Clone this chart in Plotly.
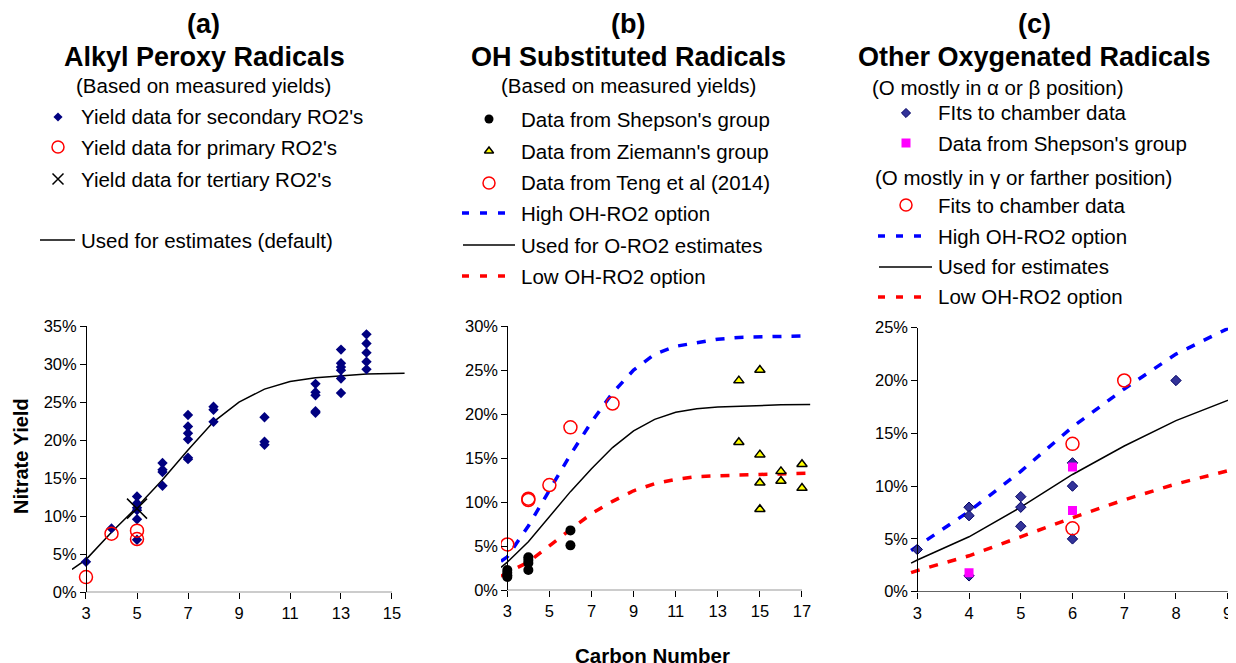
import plotly.graph_objects as go

W, H = 1236, 663
OFF = 8  # the page body margin shifts the plot by this much
FONT = "Liberation Sans, Arial, sans-serif"
NAVY = "#000080"

# ---- panel (a): alkyl peroxy radicals ----
a_sec_x = [3, 4, 5, 5, 5, 5, 5, 5, 6, 6, 6, 6, 7, 7, 7, 7, 7, 7, 8, 8, 8,
           10, 10, 10, 12, 12, 12, 12, 12, 13, 13, 13, 13, 13, 13, 14, 14, 14, 14, 14]
a_sec_y = [4.0, 8.4, 12.6, 11.7, 11.1, 10.8, 9.6, 6.9, 17.0, 16.1, 15.8, 14.0,
           23.3, 21.8, 20.9, 20.1, 17.7, 17.5, 24.4, 24.0, 22.4,
           23.0, 19.8, 19.4, 27.4, 26.3, 25.9, 23.8, 23.6,
           31.9, 30.1, 29.6, 29.2, 28.1, 26.2, 33.9, 32.7, 31.5, 30.3, 29.3]
a_prim_x = [3, 4, 5, 5]
a_prim_y = [2.0, 7.7, 8.1, 7.0]
a_tert_x = [5]
a_tert_y = [11.0]
a_est_x = [2.45, 3, 4, 5, 6, 7, 8, 9, 10, 11, 12, 13, 14, 15.5]
a_est_y = [3.0, 4.3, 7.9, 11.2, 14.8, 18.7, 22.4, 25.0, 26.7, 27.7, 28.2, 28.5, 28.7, 28.8]

# ---- panel (b): OH substituted radicals ----
b_shep_x = [3, 3, 3, 3, 4, 4, 4, 4, 6, 6]
b_shep_y = [2.3, 2.0, 1.7, 1.5, 3.75, 3.45, 3.1, 2.3, 6.8, 5.1]
b_ziem_x = [14, 14, 15, 15, 15, 15, 16, 16, 17, 17]
b_ziem_y = [23.8, 16.8, 25.0, 15.4, 12.2, 9.2, 13.5, 12.4, 14.3, 11.6]
b_teng_x = [3, 4, 4, 5, 6, 8]
b_teng_y = [5.2, 10.4, 10.25, 11.95, 18.5, 21.2]
b_line_x = [2.7, 3, 4, 5, 6, 7, 8, 9, 10, 11, 12, 13, 14, 15, 16, 17.4]
b_high = [3.3, 3.8, 7.3, 11.4, 15.4, 19.1, 22.4, 25.0, 26.8, 27.7, 28.1, 28.5, 28.7, 28.75, 28.8, 28.9]
b_mid = [2.6, 3.2, 5.5, 8.3, 11.2, 13.8, 16.2, 18.1, 19.4, 20.2, 20.6, 20.8, 20.9, 21.0, 21.05, 21.1]
b_low = [1.6, 2.0, 3.2, 5.1, 6.9, 8.7, 10.1, 11.3, 12.1, 12.6, 12.9, 13.0, 13.1, 13.15, 13.2, 13.3]

# ---- panel (c): other oxygenated radicals ----
c_fit_x = [3, 4, 4, 4, 5, 5, 5, 6, 6, 6, 8]
c_fit_y = [4.0, 8.0, 7.2, 1.5, 9.0, 8.0, 6.2, 12.2, 10.0, 5.0, 20.0]
c_shep_x = [4, 6, 6]
c_shep_y = [1.8, 11.8, 7.7]
c_far_x = [6, 6, 7]
c_far_y = [14.0, 6.0, 20.0]
c_line_x = [2.88, 3, 4, 5, 6, 7, 8, 9.2]
c_high = [3.9, 4.3, 7.6, 11.4, 15.6, 19.2, 22.5, 25.4]
c_mid = [2.7, 3.0, 5.2, 8.0, 11.1, 13.8, 16.2, 18.5]
c_low = [1.8, 2.0, 3.4, 5.2, 7.0, 8.7, 10.2, 11.7]


def dom(r0, r1, c0, c1, p0, p1):
    # pixel span of an axis range, given two reference values and their pixels
    s = (p1 - p0) / (c1 - c0)
    return p0 - (c0 - r0) * s, p1 + (r1 - c1) * s


fig = go.Figure()

panels = [
    dict(xr=(2.45, 15.5), c=(3, 15), p=(86, 392), ymax=35, py=(592.3, 326), xt=list(range(3, 16, 2))),
    dict(xr=(2.7, 17.4), c=(3, 17), p=(507.3, 802), ymax=30, py=(590.3, 326), xt=list(range(3, 18, 2))),
    dict(xr=(2.85, 9.2), c=(3, 9), p=(917.3, 1227.7), ymax=25, py=(591.7, 327.7), xt=list(range(3, 10))),
]

layout = {}
for i, pn in enumerate(panels, start=1):
    L, R = dom(pn["xr"][0], pn["xr"][1], pn["c"][0], pn["c"][1], pn["p"][0] - OFF, pn["p"][1] - OFF)
    xd = [max(L / W, 0), min(R / W, 1)]
    yd = [1 - (pn["py"][0] - OFF) / H, 1 - (pn["py"][1] - OFF) / H]
    pos = (pn["p"][0] - OFF) / W
    sfx = "" if i == 1 else str(i)
    yt = list(range(0, pn["ymax"] + 1, 5))
    layout["xaxis" + sfx] = dict(domain=xd, range=list(pn["xr"]), anchor="y" + sfx, automargin=False,
                                 tickvals=pn["xt"], ticks="outside", ticklen=6, tickcolor="black",
                                 showline=False, showgrid=False, zeroline=False,
                                 tickfont=dict(family=FONT, size=16.5, color="black"), fixedrange=True)
    layout["yaxis" + sfx] = dict(domain=yd, range=[0, pn["ymax"]], anchor="free", position=pos,
                                 automargin=False, tickmode="array", tickvals=yt,
                                 ticktext=["%d%%" % v for v in yt],
                                 ticks="outside", ticklen=6, tickcolor="black",
                                 showline=True, linecolor="black", linewidth=1,
                                 showgrid=False, zeroline=False,
                                 tickfont=dict(family=FONT, size=16.5, color="black"), fixedrange=True)

# overlay axis in window pixel units for the hand-made legends
layout["xaxis4"] = dict(domain=[0, 1], range=[OFF, W + OFF], visible=False, fixedrange=True,
                        anchor="y4", automargin=False)
layout["yaxis4"] = dict(domain=[0, 1], range=[H + OFF, OFF], visible=False, fixedrange=True,
                        anchor="x4", automargin=False)


def line(x, y, ax, color, width, dash="solid"):
    fig.add_trace(go.Scatter(x=x, y=y, mode="lines", xaxis="x" + ax, yaxis="y" + ax,
                             line=dict(color=color, width=width, dash=dash), hoverinfo="skip"))


def pts(x, y, ax, **mk):
    fig.add_trace(go.Scatter(x=x, y=y, mode="markers", xaxis="x" + ax, yaxis="y" + ax, marker=mk))


DASH = "9px,10px"

# panel (a)
line(a_est_x, a_est_y, "", "black", 1.5)
pts(a_sec_x, a_sec_y, "", symbol="diamond", size=8, color=NAVY)
pts(a_prim_x, a_prim_y, "", symbol="circle-open", size=13, color="red", line=dict(width=1.5, color="red"))
pts(a_tert_x, a_tert_y, "", symbol="x-thin-open", size=20, color="black", line=dict(width=1.5, color="black"))

# panel (b)
line(b_line_x, b_high, "2", "blue", 3.5, DASH)
line(b_line_x, b_low, "2", "red", 3.5, DASH)
line(b_line_x, b_mid, "2", "black", 1.5)
pts(b_shep_x, b_shep_y, "2", symbol="circle", size=10, color="black")
pts(b_ziem_x, b_ziem_y, "2", symbol="triangle-up", size=9, color="yellow", line=dict(width=1.5, color="black"))
pts(b_teng_x, b_teng_y, "2", symbol="circle-open", size=13, color="red", line=dict(width=1.5, color="red"))

# panel (c)
line(c_line_x, c_high, "3", "blue", 3.5, DASH)
line(c_line_x, c_low, "3", "red", 3.5, DASH)
line(c_line_x, c_mid, "3", "black", 1.5)
pts(c_fit_x, c_fit_y, "3", symbol="diamond", size=8, color="#333399", line=dict(width=1, color="#000066"))
pts(c_shep_x, c_shep_y, "3", symbol="square", size=9, color="#ff00ff")
pts(c_far_x, c_far_y, "3", symbol="circle-open", size=13, color="red", line=dict(width=1.5, color="red"))

# x-axis lines only span the labelled ticks
shapes = []
for i, pn in enumerate(panels, start=1):
    sfx = "" if i == 1 else str(i)
    shapes.append(dict(type="line", xref="x" + sfx, yref="y" + sfx, x0=pn["c"][0], x1=pn["c"][1],
                       y0=0, y1=0, line=dict(color="black", width=1)))

# legend samples (window pixel positions on overlay axis)
pts([58], [117], "4", symbol="diamond", size=7, color=NAVY)
pts([58], [147], "4", symbol="circle-open", size=12, color="red", line=dict(width=1.5, color="red"))
pts([58], [179], "4", symbol="x-thin-open", size=11, color="black", line=dict(width=1.5, color="black"))
line([40, 75], [240, 240], "4", "black", 1.5)

pts([489], [119], "4", symbol="circle", size=9, color="black")
pts([489], [151], "4", symbol="triangle-up", size=8, color="yellow", line=dict(width=1.5, color="black"))
pts([489], [183], "4", symbol="circle-open", size=12, color="red", line=dict(width=1.5, color="red"))
line([462, 507], [213, 213], "4", "blue", 3.5, "7px,11px")
line([463, 515], [245, 245], "4", "black", 1.5)
line([462, 507], [276, 276], "4", "red", 3.5, "7px,11px")

pts([906], [113], "4", symbol="diamond", size=7, color="#333399", line=dict(width=1, color="#000066"))
pts([906], [143], "4", symbol="square", size=9, color="#ff00ff")
pts([906], [205], "4", symbol="circle-open", size=12, color="red", line=dict(width=1.5, color="red"))
line([878, 924], [236, 236], "4", "blue", 3.5, "7px,11px")
line([879, 932], [267, 267], "4", "black", 1.5)
line([878, 924], [297, 297], "4", "red", 3.5, "7px,11px")

ann = []


def txt(x, y, s, size=20.5, bold=False, anchor="center", angle=0):
    ann.append(dict(x=x, y=y, xref="x4", yref="y4", text="<b>%s</b>" % s if bold else s,
                    showarrow=False, xanchor=anchor, yanchor="middle", textangle=angle,
                    font=dict(family=FONT, size=size, color="black")))


txt(203, 24, "(a)", 27, True)
txt(204, 57, "Alkyl Peroxy Radicals", 27, True)
txt(203, 85, "(Based on measured yields)")
for y, s in [(116, "Yield data for secondary RO2's"), (147.5, "Yield data for primary RO2's"),
             (179.5, "Yield data for tertiary RO2's"), (240, "Used for estimates (default)")]:
    txt(79, y, s, anchor="left")

txt(628, 24, "(b)", 27, True)
txt(628, 57, "OH Substituted Radicals", 27, True)
txt(628.5, 85, "(Based on measured yields)")
for y, s in [(119.3, "Data from Shepson's group"), (151, "Data from Ziemann's group"),
             (182.7, "Data from Teng et al (2014)"), (213.3, "High OH-RO2 option"),
             (245, "Used for O-RO2 estimates"), (276, "Low OH-RO2 option")]:
    txt(519, y, s, anchor="left")

txt(1034, 24, "(c)", 27, True)
txt(1034.7, 57, "Other Oxygenated Radicals", 27, True)
txt(998, 87.3, "(O mostly in α or β position)")
txt(1023, 177.3, "(O mostly in γ or farther position)")
for y, s in [(112.7, "FIts to chamber data"), (143.3, "Data from Shepson's group"),
             (205, "Fits to chamber data"), (236, "High OH-RO2 option"),
             (266.7, "Used for estimates"), (296.7, "Low OH-RO2 option")]:
    txt(936, y, s, anchor="left")

txt(21, 456, "Nitrate Yield", 20, True, angle=-90)
txt(652, 655, "Carbon Number", 20.5, True)

fig.update_layout(**layout)
fig.update_layout(width=W, height=H, autosize=False, margin=dict(l=0, r=0, t=0, b=0, pad=0),
                  paper_bgcolor="white", plot_bgcolor="rgba(0,0,0,0)",
                  showlegend=False, shapes=shapes, annotations=ann,
                  font=dict(family=FONT, color="black"))
fig.write_html("out.html")
